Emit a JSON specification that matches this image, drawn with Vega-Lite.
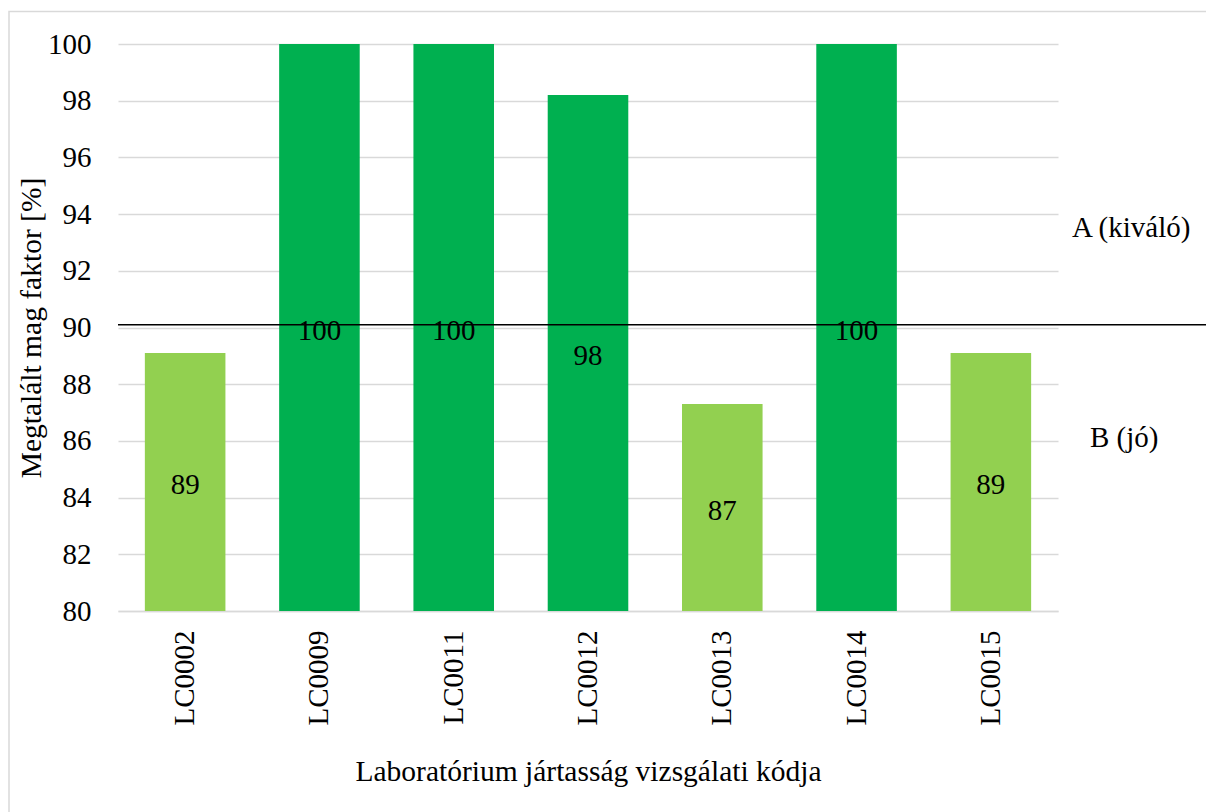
{
  "$schema": "https://vega.github.io/schema/vega-lite/v6.json",
  "width": 940,
  "height": 567,
  "autosize": {"type": "none"},
  "padding": {"left": 118, "top": 44, "right": 148, "bottom": 201},
  "background": "white",
  "config": {
    "view": {"stroke": null},
    "font": "Liberation Serif",
    "text": {"font": "Liberation Serif", "fontWeight": "normal"},
    "axis": {
      "labelFont": "Liberation Serif",
      "titleFont": "Liberation Serif",
      "labelColor": "black",
      "titleColor": "black",
      "titleFontWeight": "normal",
      "labelFontWeight": "normal",
      "labelFontSize": 29,
      "titleFontSize": 29.5,
      "ticks": false
    }
  },
  "datasets": {
    "labs": [
      {"kod": "LC0002", "faktor": 89.1, "minosites": "B"},
      {"kod": "LC0009", "faktor": 100, "minosites": "A"},
      {"kod": "LC0011", "faktor": 100, "minosites": "A"},
      {"kod": "LC0012", "faktor": 98.2, "minosites": "A"},
      {"kod": "LC0013", "faktor": 87.3, "minosites": "B"},
      {"kod": "LC0014", "faktor": 100, "minosites": "A"},
      {"kod": "LC0015", "faktor": 89.1, "minosites": "B"}
    ],
    "single": [{}]
  },
  "data": {"name": "labs"},
  "layer": [
    {
      "layer": [
        {
          "data": {"name": "single"},
          "mark": {"type": "rect", "fill": null, "stroke": "#D9D9D9", "strokeWidth": 1.5, "clip": false,
                   "xOffset": -109, "x2Offset": 200, "yOffset": -32.5, "y2Offset": 250},
          "encoding": {
            "x": {"value": 0},
            "x2": {"value": "width"},
            "y": {"value": 0},
            "y2": {"value": "height"}
          }
        },
        {
          "mark": {"type": "bar"},
          "encoding": {
            "x": {
              "field": "kod",
              "type": "nominal",
              "sort": null,
              "scale": {"paddingInner": 0.4, "paddingOuter": 0.2},
              "axis": {
                "title": "Laboratórium jártasság vizsgálati kódja",
                "labelAngle": -90,
                "labelAlign": "right",
                "labelBaseline": "middle",
                "labelPadding": 19,
                "titlePadding": 32,
                "domainColor": "#D9D9D9",
                "domainWidth": 1.5,
                "grid": false
              }
            },
            "y": {
              "field": "faktor",
              "type": "quantitative",
              "scale": {"domain": [80, 100], "zero": false, "nice": false},
              "axis": {
                "title": "Megtalált mag faktor [%]",
                "values": [80, 82, 84, 86, 88, 90, 92, 94, 96, 98, 100],
                "domain": false,
                "gridColor": "#D9D9D9",
                "gridWidth": 1.3,
                "labelPadding": 27,
                "titlePadding": 1
              }
            },
            "y2": {"datum": 80},
            "color": {
              "field": "minosites",
              "type": "nominal",
              "scale": {"domain": ["A", "B"], "range": ["#00B050", "#92D050"]},
              "legend": null
            }
          }
        },
        {
          "data": {"name": "single"},
          "mark": {"type": "rule", "color": "black", "strokeWidth": 1.5, "clip": false, "x2Offset": 148},
          "encoding": {
            "x": {"value": 0},
            "x2": {"value": "width"},
            "y": {"datum": 90.1}
          }
        },
        {
          "data": {"name": "single"},
          "mark": {"type": "text", "text": "A (kiváló)", "align": "left", "baseline": "middle",
                   "font": "Liberation Serif", "fontWeight": "normal",
                   "fontSize": 29, "color": "black", "dx": 14, "clip": false},
          "encoding": {
            "x": {"value": "width"},
            "y": {"datum": 93.5}
          }
        },
        {
          "data": {"name": "single"},
          "mark": {"type": "text", "text": "B (jó)", "align": "left", "baseline": "middle",
                   "font": "Liberation Serif", "fontWeight": "normal",
                   "fontSize": 29, "color": "black", "dx": 32, "clip": false},
          "encoding": {
            "x": {"value": "width"},
            "y": {"datum": 86.1}
          }
        }
      ]
    },
    {
      "mark": {"type": "text", "fontSize": 29, "color": "black", "baseline": "middle", "dy": 3,
               "font": "Liberation Serif", "fontWeight": "normal"},
      "encoding": {
        "x": {"field": "kod", "type": "nominal", "sort": null},
        "y": {
          "field": "faktor",
          "type": "quantitative",
          "scale": {"domain": [80, 120], "zero": false, "nice": false},
          "axis": null
        },
        "text": {"field": "faktor", "type": "quantitative", "format": ".0f"}
      }
    }
  ],
  "resolve": {"scale": {"y": "independent"}}
}
